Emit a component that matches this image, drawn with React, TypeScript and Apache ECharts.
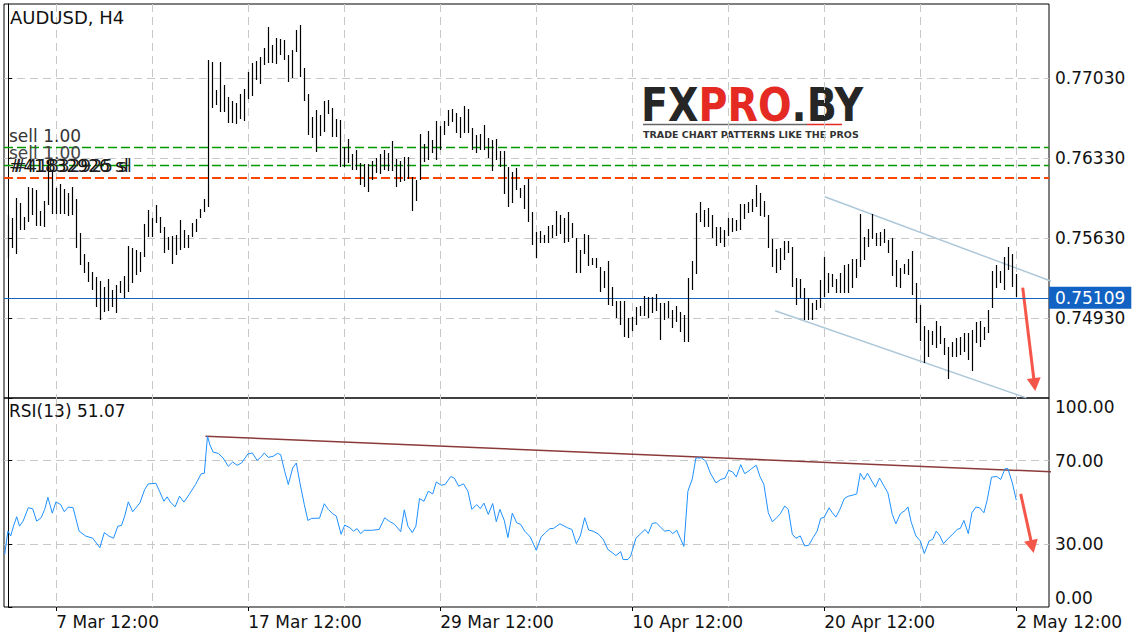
import React, { useEffect, useRef } from "react";
import * as echarts from "echarts";

// ---- price bars (H4, AUDUSD) : index = bar number from the left ----
const barHigh = [
  0.75834, 0.75805, 0.75980, 0.75936, 0.75814, 0.76082, 0.76067, 0.76053, 0.75869, 0.75959,
  0.76315, 0.76213, 0.76067, 0.76102, 0.76059, 0.76024, 0.76076, 0.75974, 0.75674, 0.75493,
  0.75420, 0.75338, 0.75294, 0.75259, 0.75207, 0.75271, 0.75178, 0.75222, 0.75259, 0.75303,
  0.75566, 0.75548, 0.75528, 0.75507, 0.75755, 0.75878, 0.75811, 0.75922, 0.75814, 0.75732,
  0.75644, 0.75650, 0.75659, 0.75790, 0.75703, 0.75659, 0.75761, 0.75796, 0.75884, 0.75971,
  0.77190, 0.77167, 0.76928, 0.77167, 0.76972, 0.76869, 0.76832, 0.76811, 0.76893, 0.76937,
  0.77082, 0.77161, 0.77176, 0.77214, 0.77292, 0.77476, 0.77316, 0.77380, 0.77374, 0.77365,
  0.77234, 0.77278, 0.77453, 0.77497, 0.77117, 0.76893, 0.76689, 0.76747, 0.76709, 0.76834,
  0.76840, 0.76767, 0.76674, 0.76665, 0.76426, 0.76496, 0.76368, 0.76403, 0.76292, 0.76280,
  0.76280, 0.76301, 0.76330, 0.76368, 0.76403, 0.76379, 0.76482, 0.76324, 0.76309, 0.76339,
  0.76339, 0.76164, 0.76140, 0.76543, 0.76455, 0.76569, 0.76490, 0.76657, 0.76607, 0.76657,
  0.76747, 0.76762, 0.76729, 0.76694, 0.76788, 0.76762, 0.76592, 0.76534, 0.76540, 0.76622,
  0.76505, 0.76490, 0.76496, 0.76394, 0.76397, 0.76257, 0.76213, 0.76248, 0.76067, 0.76097,
  0.76146, 0.75857, 0.75688, 0.75697, 0.75656, 0.75738, 0.75747, 0.75869, 0.75834, 0.75805,
  0.75857, 0.75767, 0.75630, 0.75528, 0.75668, 0.75659, 0.75455, 0.75455, 0.75376, 0.75347,
  0.75434, 0.75207, 0.75082, 0.75082, 0.75082, 0.74930, 0.74944, 0.75032, 0.75038, 0.75125,
  0.75119, 0.75119, 0.75143, 0.75061, 0.75061, 0.75084, 0.75003, 0.75038, 0.74982, 0.74959,
  0.75280, 0.75432, 0.75849, 0.75945, 0.75878, 0.75892, 0.75834, 0.75732, 0.75726, 0.75703,
  0.75805, 0.75805, 0.75790, 0.75927, 0.75927, 0.75951, 0.75971, 0.76097, 0.76024, 0.75957,
  0.75834, 0.75624, 0.75534, 0.75542, 0.75607, 0.75609, 0.75557, 0.75280, 0.75271, 0.75192,
  0.75105, 0.75061, 0.75090, 0.75265, 0.75464, 0.75324, 0.75318, 0.75274, 0.75324, 0.75397,
  0.75405, 0.75449, 0.75449, 0.75843, 0.75644, 0.75709, 0.75840, 0.75679, 0.75688, 0.75712,
  0.75615, 0.75630, 0.75440, 0.75373, 0.75405, 0.75446, 0.75522, 0.75242, 0.75047, 0.74866,
  0.74828, 0.74819, 0.74909, 0.74866, 0.74755, 0.74682, 0.74726, 0.74755, 0.74769, 0.74799,
  0.74804, 0.74828, 0.74895, 0.74907, 0.74857, 0.75003, 0.75344, 0.75397, 0.75344, 0.75469,
  0.75551, 0.75490, 0.75315,
];
const barLow = [
  0.75455, 0.75548, 0.75490, 0.75703, 0.75703, 0.75776, 0.75834, 0.75741, 0.75741, 0.75732,
  0.75922, 0.75840, 0.75840, 0.75840, 0.75840, 0.75828, 0.75834, 0.75542, 0.75397, 0.75324,
  0.75251, 0.75178, 0.75032, 0.74915, 0.74988, 0.74994, 0.75032, 0.74979, 0.75149, 0.75111,
  0.75163, 0.75242, 0.75309, 0.75338, 0.75469, 0.75644, 0.75644, 0.75761, 0.75674, 0.75499,
  0.75528, 0.75402, 0.75484, 0.75528, 0.75542, 0.75548, 0.75644, 0.75688, 0.75805, 0.75863,
  0.75907, 0.76767, 0.76797, 0.76738, 0.76738, 0.76636, 0.76636, 0.76627, 0.76674, 0.76651,
  0.76849, 0.76875, 0.77015, 0.76977, 0.77141, 0.77161, 0.77161, 0.77152, 0.77234, 0.77184,
  0.76992, 0.77030, 0.77257, 0.77036, 0.76826, 0.76534, 0.76505, 0.76388, 0.76528, 0.76563,
  0.76718, 0.76519, 0.76511, 0.76257, 0.76251, 0.76292, 0.76228, 0.76228, 0.76097, 0.76076,
  0.76038, 0.76140, 0.76199, 0.76193, 0.76228, 0.76222, 0.76222, 0.76082, 0.76126, 0.76134,
  0.76146, 0.75872, 0.75959, 0.76140, 0.76295, 0.76315, 0.76374, 0.76315, 0.76403, 0.76534,
  0.76613, 0.76642, 0.76549, 0.76505, 0.76549, 0.76549, 0.76403, 0.76374, 0.76403, 0.76403,
  0.76330, 0.76222, 0.76315, 0.76257, 0.76015, 0.75907, 0.75936, 0.76053, 0.75980, 0.75884,
  0.75776, 0.75572, 0.75455, 0.75586, 0.75586, 0.75592, 0.75630, 0.75650, 0.75668, 0.75586,
  0.75601, 0.75630, 0.75324, 0.75324, 0.75493, 0.75391, 0.75397, 0.75367, 0.75163, 0.75192,
  0.75047, 0.75038, 0.74930, 0.74872, 0.74769, 0.74755, 0.74822, 0.74872, 0.74950, 0.74950,
  0.74936, 0.74979, 0.74994, 0.74740, 0.74915, 0.74930, 0.74842, 0.74901, 0.74813, 0.74726,
  0.74726, 0.75178, 0.75315, 0.75770, 0.75726, 0.75732, 0.75630, 0.75563, 0.75586, 0.75557,
  0.75650, 0.75688, 0.75694, 0.75703, 0.75796, 0.75849, 0.75863, 0.75907, 0.75825, 0.75814,
  0.75548, 0.75382, 0.75329, 0.75353, 0.75440, 0.75504, 0.75207, 0.75047, 0.75105, 0.74915,
  0.74915, 0.74915, 0.75003, 0.75023, 0.75119, 0.75149, 0.75207, 0.75154, 0.75154, 0.75154,
  0.75154, 0.75198, 0.75280, 0.75382, 0.75440, 0.75557, 0.75624, 0.75563, 0.75566, 0.75586,
  0.75499, 0.75300, 0.75207, 0.75192, 0.75315, 0.75309, 0.75134, 0.74892, 0.74732, 0.74542,
  0.74594, 0.74697, 0.74667, 0.74702, 0.74609, 0.74396, 0.74594, 0.74589, 0.74609, 0.74638,
  0.74565, 0.74472, 0.74717, 0.74682, 0.74740, 0.74804, 0.75023, 0.75192, 0.75242, 0.75178,
  0.75353, 0.75207, 0.75114,
];
const lastPrice = 0.75109;

// ---- RSI(13): vertices read from the sub-window (bar position, value) ----
const rsiPos = [
  -0.9, -0.1, 0.6, 1.3, 2.1, 2.8, 3.7, 5.0, 6.1, 7.1, 8.2, 9.1, 9.9, 11.0, 11.9, 13.1, 14.0, 15.0, 16.2,
  17.7, 19.3, 21.1, 22.9, 24.0, 25.1, 26.3, 27.4, 28.3, 29.1, 30.0, 31.1, 32.9, 34.1, 35.0, 36.9, 37.8,
  38.9, 39.7, 40.5, 41.7, 42.8, 43.9, 45.2, 46.8, 48.2, 49.0, 49.8, 50.4, 51.2, 52.5, 53.7, 55.0, 56.1,
  57.2, 58.3, 59.9, 61.0, 62.2, 63.1, 64.0, 65.0, 66.2, 67.3, 68.1, 69.1, 70.0, 71.1, 72.0, 72.9, 74.0,
  74.9, 75.8, 77.8, 79.0, 80.0, 81.1, 82.0, 83.2, 84.1, 85.4, 86.3, 87.2, 88.1, 89.0, 90.8, 92.7, 94.1,
  95.2, 96.6, 98.1, 99.0, 99.9, 101.0, 101.9, 102.8, 103.9, 105.0, 106.1, 107.0, 108.2, 109.2, 110.6,
  111.5, 112.6, 113.8, 114.9, 115.9, 117.1, 118.0, 118.9, 120.0, 121.1, 122.0, 122.9, 124.0, 124.9,
  126.0, 127.1, 128.1, 129.1, 130.5, 132.0, 133.2, 134.3, 135.4, 136.3, 137.9, 139.8, 140.9, 142.0,
  143.0, 144.1, 145.1, 146.2, 147.6, 148.8, 149.9, 151.0, 151.9, 153.1, 153.7, 154.9, 155.6, 156.9,
  158.1, 159.2, 160.0, 161.0, 162.0, 163.2, 164.1, 165.3, 166.1, 167.1, 168.0, 168.9, 169.9, 171.0,
  171.9, 173.3, 174.4, 175.5, 176.9, 178.1, 179.2, 180.1, 181.1, 182.0, 183.1, 184.1, 185.2, 185.8,
  187.0, 187.9, 188.9, 190.0, 191.0, 192.1, 193.0, 194.1, 195.0, 196.0, 196.9, 198.0, 199.1, 200.1,
  201.2, 202.2, 203.1, 204.0, 205.2, 206.0, 206.9, 207.9, 209.0, 210.0, 211.1, 212.1, 213.0, 213.9,
  214.8, 215.9, 216.8, 217.8, 218.7, 219.9, 221.0, 221.9, 223.0, 224.2, 224.9, 225.7, 226.9, 228.0,
  229.0, 230.2, 231.1, 232.0, 232.9, 233.8, 235.0, 236.1, 237.2, 238.0, 238.9, 240.0, 240.9, 241.9,
  242.8, 243.9, 244.7, 245.8, 247.1, 248.1, 249.2, 249.9, 251.0, 252.0,
];
const rsiVal = [
  25.2, 36.3, 34.0, 38.7, 43.2, 38.7, 41.1, 47.5, 47.0, 41.1, 42.7, 46.7, 52.5, 44.9, 50.3, 49.0, 45.6, 47.8, 47.5,
  36.3, 34.0, 32.9, 28.4, 35.6, 34.0, 32.9, 38.7, 39.0, 43.5, 50.3, 45.6, 49.8, 56.2, 58.9, 59.2, 55.4,
  50.6, 52.7, 50.3, 47.9, 53.0, 50.2, 53.8, 58.6, 63.7, 64.0, 81.7, 77.6, 74.1, 73.5, 71.3, 67.3, 69.4,
  67.8, 68.9, 73.2, 73.7, 70.2, 71.6, 73.7, 71.6, 72.1, 73.5, 72.9, 64.9, 58.6, 66.5, 68.9, 59.4, 49.0,
  41.4, 42.4, 42.5, 49.4, 46.7, 44.6, 43.5, 34.8, 39.2, 37.9, 36.3, 37.5, 35.1, 36.7, 36.7, 37.1, 42.7,
  41.1, 39.5, 36.0, 46.5, 38.7, 35.6, 38.7, 51.9, 50.6, 55.4, 54.1, 59.8, 58.3, 58.6, 62.4,
  61.7, 57.8, 58.9, 55.4, 46.7, 49.0, 47.1, 49.7, 44.3, 49.5, 40.8, 46.7, 41.4, 33.2,
  44.9, 40.3, 39.5, 36.3, 33.5, 27.1, 33.5, 35.6, 37.5, 37.6, 39.8, 37.9, 37.1, 30.3,
  34.0, 42.7, 36.8, 36.3, 34.8, 32.1, 27.5, 26.0, 24.6, 26.5, 22.7, 22.7, 24.4, 32.9,
  35.1, 37.1, 35.2, 40.0, 40.3, 37.9, 36.3, 36.7, 35.1, 36.7, 32.9, 29.0, 55.4, 61.3,
  71.3, 71.3, 69.7, 64.1, 59.4, 61.0, 61.7, 65.4, 64.6, 62.2, 68.1, 63.8, 65.2, 66.2,
  67.8, 62.5, 58.6, 45.1, 40.8, 42.7, 44.6, 48.3, 46.7, 34.8, 32.9, 34.0, 29.2, 29.5,
  33.2, 36.3, 42.4, 43.0, 47.5, 45.1, 43.0, 46.7, 51.9, 53.0, 53.5, 54.1, 64.0, 61.0,
  64.0, 60.2, 57.3, 61.7, 58.6, 54.6, 44.3, 39.8, 44.6, 46.2, 47.9, 40.8, 34.0, 31.6,
  25.6, 31.6, 32.4, 36.3, 34.0, 30.3, 32.9, 34.8, 37.1, 37.6, 41.4, 35.1, 45.1, 47.8,
  47.5, 45.1, 51.0, 62.1, 62.5, 61.0, 66.2, 66.2, 59.4, 51.07,
];
const rsiLast = 51.07;

// ---- axes / ticks ----
const priceTicks = [0.7493, 0.7563, 0.7633, 0.7703];
const rsiTicks = [0, 30, 70, 100];
const rsiLevels = [30, 70];
const gridBars = [12, 36, 60, 84, 108, 132, 156, 180, 204, 228, 252];
const labelBars = [12, 60, 108, 156, 204, 252];
const timeLabels = ["7 Mar 12:00", "17 Mar 12:00", "29 Mar 12:00", "10 Apr 12:00", "20 Apr 12:00", "2 May 12:00"];

// ---- trade levels & drawings ----
const sellLevels = [0.76423, 0.76271];
const slLevel = 0.7616;
const upperChannel = [[204.1, 0.75993], [261.9, 0.75239]];
const lowerChannel = [[191.7, 0.74996], [254.5, 0.74234]];
const priceArrow = [[253.6, 0.75198], [256.55, 0.74351]];
const rsiTrend = [[49.3, 81.7], [261.8, 64.6]];
const rsiArrow = [[253.1, 54.1], [256.0, 28.9]];

const X_MIN = -1.075;
const X_MAX = 260.175;
const Y_MIN = 0.74233;
const Y_MAX = 0.77678;

const FONT = "DejaVu Sans";
const dashed = { type: [8, 5], color: "#c8c8c8", width: 1 };
const ARROW_RED = "#f4574a";
const GREEN = "#009a00";

export default function App() {
  const ref = useRef<HTMLDivElement>(null);
  useEffect(() => {
    if (!ref.current) return;
    const chart = echarts.init(ref.current, undefined, { renderer: "svg" });
    const barData = barHigh.map((h, i) => [i, barLow[i], h]);
    const rsiData = rsiPos.map((x, k) => [x, rsiVal[k]]);

    const hiddenX = (gridIndex: number) => ({
      gridIndex,
      type: "value",
      min: X_MIN,
      max: X_MAX,
      axisLine: { show: false },
      axisTick: { show: false, customValues: gridBars },
      axisLabel: { show: false, customValues: gridBars },
      splitLine: { show: true, lineStyle: dashed },
    });

    const levelLabel = (text: string, color: string, extra: any = {}) => ({
      show: true,
      position: "insideStartTop",
      formatter: text,
      color,
      fontSize: 17,
      fontFamily: FONT,
      distance: 3,
      offset: [2, 0],
      ...extra,
    });

    const levelLine = (y: number, color: string, width: number, label: any) => ({
      name: "level",
      yAxis: y,
      lineStyle: { color, type: [9, 4], width, opacity: 1 },
      emphasis: { disabled: true },
      label,
    });

    const option: any = {
      animation: false,
      backgroundColor: "#ffffff",
      textStyle: { fontFamily: FONT },
      grid: [
        { left: 4, top: 4, width: 1045, height: 394, show: true, borderColor: "#000", borderWidth: 1, backgroundColor: "transparent" },
        { left: 4, top: 398, width: 1045, height: 209, show: true, borderColor: "#000", borderWidth: 1, backgroundColor: "transparent" },
      ],
      xAxis: [
        hiddenX(0),
        hiddenX(1),
        {
          gridIndex: 1,
          type: "value",
          min: X_MIN,
          max: X_MAX,
          position: "bottom",
          axisLine: { show: false },
          axisTick: { show: true, customValues: labelBars, length: 4, lineStyle: { color: "#000" } },
          axisLabel: {
            customValues: labelBars,
            formatter: (v: number) => timeLabels[labelBars.indexOf(Math.round(v))] ?? "",
            align: "left",
            fontSize: 17,
            fontFamily: FONT,
            color: "#111",
            margin: 6,
          },
          splitLine: { show: false },
        },
      ],
      yAxis: [
        {
          gridIndex: 0,
          type: "value",
          position: "right",
          min: Y_MIN,
          max: Y_MAX,
          axisLine: { show: true, lineStyle: { color: "#000" } },
          axisTick: { show: true, customValues: priceTicks, length: 4, lineStyle: { color: "#000" } },
          axisLabel: {
            customValues: priceTicks,
            formatter: (v: number) => v.toFixed(5),
            fontSize: 17,
            fontFamily: FONT,
            color: "#111",
            margin: 6,
          },
          splitLine: { show: true, lineStyle: dashed },
        },
        {
          gridIndex: 1,
          type: "value",
          position: "right",
          min: 0,
          max: 100,
          axisLine: { show: true, lineStyle: { color: "#000" } },
          axisTick: { show: true, customValues: rsiTicks, length: 4, lineStyle: { color: "#000" } },
          axisLabel: {
            customValues: rsiTicks,
            formatter: (v: number) =>
              v === 100 ? `{t|${v.toFixed(2)}}` : v === 0 ? `{b|${v.toFixed(2)}}` : v.toFixed(2),
            rich: {
              t: { padding: [18, 0, 0, 0], fontSize: 17, fontFamily: FONT, color: "#111" },
              b: { padding: [0, 0, 18, 0], fontSize: 17, fontFamily: FONT, color: "#111" },
            },
            fontSize: 17,
            fontFamily: FONT,
            color: "#111",
            margin: 6,
          },
          splitLine: { show: false },
        },
        {
          gridIndex: 1,
          type: "value",
          position: "right",
          min: 0,
          max: 100,
          axisLine: { show: false },
          axisTick: { show: false, customValues: rsiLevels },
          axisLabel: { show: false, customValues: rsiLevels },
          splitLine: { show: true, lineStyle: dashed },
        },
      ],
      series: [
        {
          type: "custom",
          name: "AUDUSD",
          xAxisIndex: 0,
          yAxisIndex: 0,
          data: barData,
          encode: { x: 0, y: [1, 2] },
          z: 5,
          renderItem: (params: any, api: any) => {
            const x = api.value(0);
            const lo = api.coord([x, api.value(1)]);
            const hi = api.coord([x, api.value(2)]);
            const px = Math.round(lo[0]) + 0.5;
            return {
              type: "line",
              shape: { x1: px, y1: Math.round(hi[1]), x2: px, y2: Math.round(lo[1]) },
              style: { stroke: "#000", lineWidth: 1.2 },
            };
          },
          markLine: {
            silent: true,
            animation: false,
            precision: 5,
            symbol: ["none", "triangle"],
            symbolSize: [14, 13],
            lineStyle: { color: ARROW_RED, width: 3, type: "solid" },
            label: { show: false },
            data: [[{ coord: priceArrow[0] }, { coord: priceArrow[1] }]],
          },
        },
        {
          type: "line",
          name: "channel-upper",
          xAxisIndex: 0,
          yAxisIndex: 0,
          data: upperChannel,
          clip: false,
          symbol: "none",
          silent: true,
          lineStyle: { color: "#adc8d8", width: 1.5 },
          z: 4,
          markLine: {
            silent: true,
            animation: false,
            precision: 5,
            symbol: ["none", "none"],
            data: [
              levelLine(sellLevels[0], GREEN, 1.3, levelLabel("sell 1.00", "#333")),
              levelLine(sellLevels[1], GREEN, 1.3, levelLabel("sell 1.00", "#444")),
              levelLine(slLevel, "#ff4500", 2, levelLabel("#41832926 sl", "#111")),
              levelLine(slLevel, "#ff4500", 2, levelLabel("#41832925 sl", "#222", { offset: [5, 0] })),
              {
                yAxis: lastPrice,
                lineStyle: { color: "#1565c0", type: "solid", width: 1 },
                label: {
                  show: true,
                  position: "end",
                  formatter: lastPrice.toFixed(5),
                  color: "#fff",
                  backgroundColor: "#1162c2",
                  padding: [3, 6, 2, 6],
                  fontSize: 17,
                  fontFamily: FONT,
                  distance: 0,
                },
              },
            ],
          },
        },
        {
          type: "line",
          name: "channel-lower",
          xAxisIndex: 0,
          yAxisIndex: 0,
          data: lowerChannel,
          clip: false,
          symbol: "none",
          silent: true,
          lineStyle: { color: "#adc8d8", width: 1.5 },
          z: 4,
        },
        {
          type: "line",
          name: "RSI(13)",
          xAxisIndex: 1,
          yAxisIndex: 1,
          data: rsiData,
          symbol: "none",
          silent: true,
          lineStyle: { color: "#1e90ff", width: 1 },
          z: 5,
          markLine: {
            silent: true,
            animation: false,
            precision: 3,
            symbol: ["none", "triangle"],
            symbolSize: [14, 13],
            lineStyle: { color: ARROW_RED, width: 3, type: "solid" },
            label: { show: false },
            data: [[{ coord: rsiArrow[0] }, { coord: rsiArrow[1] }]],
          },
        },
        {
          type: "line",
          name: "rsi-trend",
          xAxisIndex: 1,
          yAxisIndex: 1,
          data: rsiTrend,
          clip: false,
          symbol: "none",
          silent: true,
          lineStyle: { color: "#8b3a3a", width: 1.5 },
          z: 4,
        },
      ],
      graphic: [
        {
          type: "text",
          left: 10,
          top: 8,
          z: 50,
          style: { text: "AUDUSD, H4", fontSize: 18, fontFamily: FONT, fill: "#111" },
        },
        {
          type: "text",
          left: 9,
          top: 402,
          z: 50,
          style: { text: `RSI(13) ${rsiLast.toFixed(2)}`, fontSize: 17, fontFamily: FONT, fill: "#111" },
        },
        {
          type: "group",
          left: 636,
          top: 82,
          z: 20,
          children: [
            { type: "rect", shape: { x: 0, y: 0, width: 232, height: 60 }, style: { fill: "#ffffff" } },
            {
              type: "text",
              x: 5,
              y: 0,
              scaleX: 0.86,
              style: {
                text: "{a|FX}{b|PRO}{a|.BY}",
                rich: {
                  a: { fontSize: 46, fontWeight: "bold", fontFamily: FONT, fill: "#262626" },
                  b: { fontSize: 46, fontWeight: "bold", fontFamily: FONT, fill: "#e42a22" },
                },
              },
            },
            { type: "line", shape: { x1: 7, y1: 42.5, x2: 171, y2: 42.5 }, style: { stroke: "#666", lineWidth: 1.5 } },
            { type: "line", shape: { x1: 171, y1: 42.5, x2: 206, y2: 42.5 }, style: { stroke: "#e42a22", lineWidth: 1.5 } },
            {
              type: "text",
              x: 7,
              y: 47,
              style: { text: "TRADE CHART PATTERNS LIKE THE PROS", fontSize: 9.5, fontWeight: "bold", fontFamily: FONT, fill: "#333" },
            },
          ],
        },
      ],
    };
    chart.setOption(option);
    return () => chart.dispose();
  }, []);
  return (
    <div
      ref={ref}
      style={{ position: "fixed", left: 0, top: 0, width: 1136, height: 640, background: "#fff" }}
    />
  );
}
